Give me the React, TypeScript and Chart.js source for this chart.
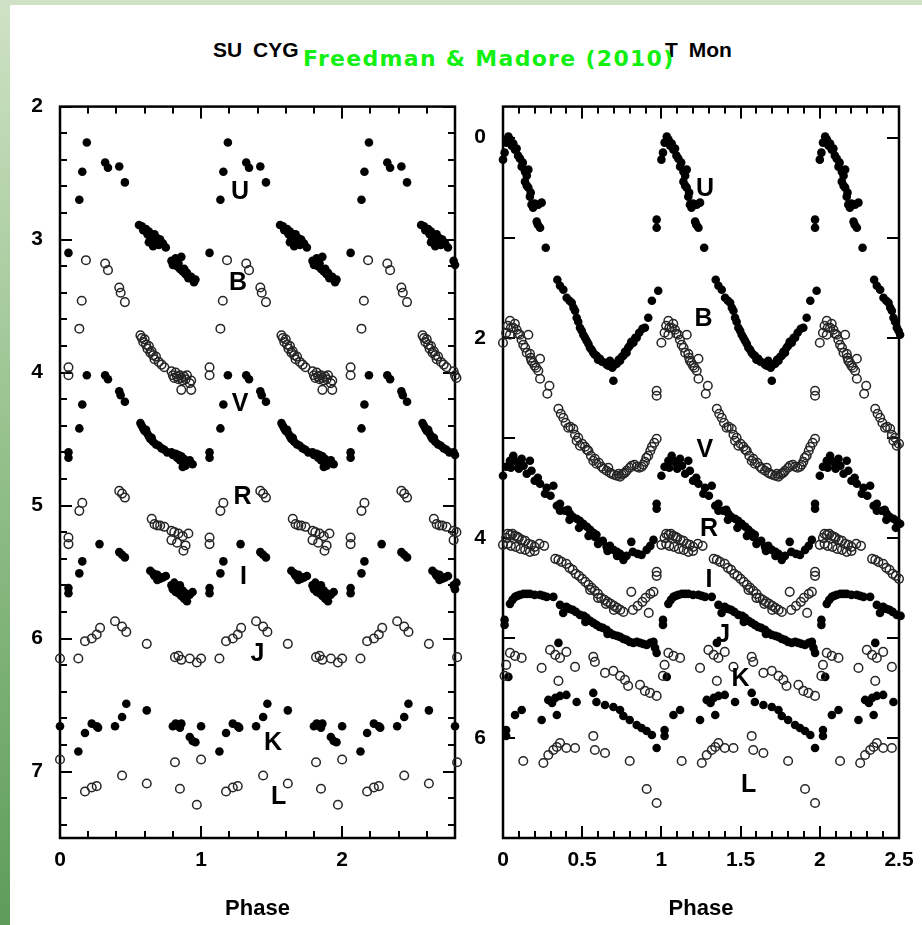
import React, { useEffect, useRef } from 'react';
import { Chart, registerables } from 'chart.js';

Chart.register(...registerables);

// ---------------- SU Cyg (left panel), one cycle: phase / magnitude ----------------
const SU_U_PHASE = [0.06, 0.137, 0.158, 0.19, 0.32, 0.34, 0.42, 0.46, 0.56, 0.58, 0.59, 0.61, 0.62, 0.63, 0.64, 0.65, 0.66, 0.67, 0.68, 0.69, 0.70, 0.71, 0.73, 0.75, 0.66, 0.63, 0.79, 0.80, 0.82, 0.83, 0.84, 0.85, 0.86, 0.87, 0.88, 0.89, 0.90, 0.91, 0.93, 0.95, 0.96];
const SU_U_MAG = [3.10, 2.70, 2.49, 2.27, 2.42, 2.46, 2.45, 2.57, 2.89, 2.90, 2.93, 2.92, 2.96, 2.94, 2.99, 2.97, 3.01, 2.96, 3.02, 2.99, 3.04, 3.00, 3.03, 3.06, 3.05, 3.02, 3.16, 3.19, 3.14, 3.20, 3.18, 3.22, 3.13, 3.24, 3.22, 3.26, 3.25, 3.29, 3.28, 3.32, 3.30];
const SU_B_PHASE = [0.06, 0.06, 0.137, 0.154, 0.184, 0.32, 0.34, 0.42, 0.43, 0.46, 0.57, 0.58, 0.59, 0.60, 0.61, 0.62, 0.63, 0.64, 0.65, 0.66, 0.67, 0.68, 0.70, 0.72, 0.74, 0.79, 0.80, 0.81, 0.82, 0.83, 0.84, 0.85, 0.86, 0.87, 0.88, 0.89, 0.90, 0.92, 0.93, 0.86, 0.93];
const SU_B_MAG = [3.96, 4.02, 3.67, 3.46, 3.155, 3.18, 3.23, 3.36, 3.40, 3.47, 3.72, 3.74, 3.77, 3.75, 3.79, 3.82, 3.80, 3.85, 3.84, 3.87, 3.90, 3.88, 3.92, 3.94, 3.96, 3.99, 4.02, 4.04, 4.00, 4.03, 4.05, 4.02, 4.04, 4.06, 4.03, 4.05, 4.02, 4.08, 4.06, 4.13, 4.13];
const SU_V_PHASE = [0.06, 0.06, 0.137, 0.158, 0.19, 0.32, 0.34, 0.42, 0.43, 0.46, 0.57, 0.58, 0.59, 0.60, 0.61, 0.62, 0.63, 0.64, 0.65, 0.66, 0.68, 0.70, 0.72, 0.74, 0.76, 0.79, 0.80, 0.82, 0.83, 0.84, 0.85, 0.86, 0.87, 0.88, 0.89, 0.90, 0.92, 0.94, 0.87];
const SU_V_MAG = [4.60, 4.64, 4.42, 4.24, 4.02, 4.02, 4.05, 4.14, 4.17, 4.22, 4.38, 4.40, 4.42, 4.44, 4.43, 4.46, 4.48, 4.50, 4.49, 4.52, 4.54, 4.55, 4.57, 4.58, 4.60, 4.60, 4.62, 4.61, 4.64, 4.62, 4.66, 4.63, 4.67, 4.65, 4.70, 4.68, 4.66, 4.69, 4.71];
const SU_R_PHASE = [0.06, 0.06, 0.137, 0.158, 0.42, 0.44, 0.46, 0.65, 0.67, 0.69, 0.71, 0.74, 0.79, 0.81, 0.84, 0.87, 0.91, 0.79, 0.83, 0.89, 0.875];
const SU_R_MAG = [5.24, 5.29, 5.04, 4.98, 4.89, 4.91, 4.94, 5.10, 5.14, 5.15, 5.15, 5.16, 5.19, 5.20, 5.21, 5.23, 5.21, 5.26, 5.28, 5.30, 5.34];
const SU_I_PHASE = [0.06, 0.06, 0.137, 0.158, 0.28, 0.42, 0.44, 0.46, 0.64, 0.66, 0.67, 0.69, 0.71, 0.73, 0.75, 0.69, 0.79, 0.80, 0.81, 0.82, 0.83, 0.84, 0.85, 0.86, 0.87, 0.88, 0.89, 0.90, 0.92, 0.94];
const SU_I_MAG = [5.62, 5.66, 5.51, 5.42, 5.29, 5.35, 5.37, 5.39, 5.49, 5.51, 5.53, 5.52, 5.55, 5.54, 5.53, 5.56, 5.60, 5.63, 5.58, 5.65, 5.62, 5.66, 5.60, 5.68, 5.64, 5.70, 5.66, 5.72, 5.67, 5.65];
const SU_J_PHASE = [0.0, 0.13, 0.177, 0.225, 0.26, 0.284, 0.39, 0.44, 0.47, 0.615, 0.815, 0.84, 0.86, 0.92, 0.97];
const SU_J_MAG = [6.15, 6.15, 6.02, 6.00, 5.97, 5.92, 5.87, 5.91, 5.95, 6.04, 6.14, 6.13, 6.16, 6.15, 6.18];
const SU_K_PHASE = [0.0, 0.13, 0.177, 0.225, 0.26, 0.27, 0.39, 0.44, 0.47, 0.615, 0.80, 0.82, 0.84, 0.86, 0.85, 0.92, 0.94, 0.96];
const SU_K_MAG = [6.66, 6.85, 6.71, 6.64, 6.66, 6.67, 6.66, 6.59, 6.49, 6.54, 6.66, 6.64, 6.65, 6.64, 6.67, 6.74, 6.77, 6.78];
const SU_L_PHASE = [0.0, 0.177, 0.225, 0.26, 0.44, 0.615, 0.815, 0.85, 0.97];
const SU_L_MAG = [6.91, 7.15, 7.12, 7.11, 7.03, 7.09, 6.93, 7.13, 7.25];

// ---------------- T Mon (right panel), one cycle: phase / magnitude ----------------
const TM_U_PHASE = [0.0, 0.01, 0.02, 0.034, 0.045, 0.055, 0.065, 0.075, 0.086, 0.095, 0.107, 0.118, 0.125, 0.139, 0.15, 0.16, 0.139, 0.15, 0.16, 0.17, 0.175, 0.18, 0.19, 0.20, 0.223, 0.244, 0.213, 0.22, 0.234, 0.27, 0.343, 0.36, 0.381, 0.402, 0.42, 0.434, 0.445, 0.455, 0.465, 0.475, 0.486, 0.497, 0.507, 0.518, 0.528, 0.539, 0.549, 0.56, 0.57, 0.58, 0.591, 0.60, 0.612, 0.625, 0.644, 0.655, 0.665, 0.675, 0.697, 0.69, 0.705, 0.718, 0.73, 0.739, 0.75, 0.76, 0.77, 0.78, 0.79, 0.80, 0.81, 0.823, 0.835, 0.844, 0.86, 0.88, 0.896, 0.917, 0.94, 0.98, 0.97, 0.97];
const TM_U_MAG = [0.22, 0.15, 0.05, -0.01, 0.02, 0.08, 0.06, 0.12, 0.11, 0.18, 0.21, 0.29, 0.25, 0.34, 0.38, 0.32, 0.44, 0.48, 0.50, 0.59, 0.55, 0.67, 0.70, 0.66, 0.67, 0.65, 0.84, 0.87, 0.90, 1.10, 1.42, 1.48, 1.52, 1.60, 1.63, 1.65, 1.70, 1.73, 1.80, 1.84, 1.90, 1.93, 1.97, 2.00, 2.03, 2.06, 2.10, 2.12, 2.15, 2.17, 2.18, 2.22, 2.21, 2.24, 2.25, 2.27, 2.28, 2.23, 2.43, 2.30, 2.27, 2.26, 2.22, 2.23, 2.19, 2.18, 2.14, 2.15, 2.10, 2.08, 2.04, 2.05, 2.00, 2.00, 1.95, 1.91, 1.90, 1.80, 1.63, 1.53, 0.90, 0.82];
const TM_B_PHASE = [0.0, 0.02, 0.03, 0.044, 0.05, 0.065, 0.075, 0.086, 0.044, 0.095, 0.107, 0.117, 0.128, 0.14, 0.16, 0.15, 0.17, 0.175, 0.18, 0.19, 0.20, 0.21, 0.223, 0.234, 0.234, 0.28, 0.293, 0.35, 0.365, 0.381, 0.395, 0.412, 0.425, 0.444, 0.455, 0.465, 0.475, 0.486, 0.50, 0.518, 0.53, 0.539, 0.555, 0.57, 0.58, 0.59, 0.605, 0.623, 0.635, 0.654, 0.665, 0.675, 0.686, 0.70, 0.718, 0.73, 0.739, 0.75, 0.76, 0.77, 0.78, 0.80, 0.812, 0.83, 0.844, 0.86, 0.875, 0.885, 0.896, 0.905, 0.917, 0.93, 0.94, 0.955, 0.97, 0.97, 0.97];
const TM_B_MAG = [2.05, 1.95, 1.88, 1.83, 1.90, 1.90, 1.86, 1.92, 1.97, 1.96, 1.97, 2.02, 2.07, 2.10, 1.97, 2.15, 2.16, 2.20, 2.23, 2.25, 2.28, 2.30, 2.33, 2.21, 2.41, 2.56, 2.48, 2.71, 2.76, 2.80, 2.85, 2.90, 2.89, 2.91, 2.97, 3.03, 3.00, 3.08, 3.06, 3.09, 3.12, 3.13, 3.18, 3.23, 3.21, 3.26, 3.25, 3.29, 3.31, 3.33, 3.30, 3.35, 3.36, 3.37, 3.38, 3.36, 3.39, 3.37, 3.36, 3.35, 3.33, 3.30, 3.28, 3.27, 3.29, 3.30, 3.29, 3.27, 3.24, 3.20, 3.18, 3.13, 3.09, 3.05, 3.01, 2.53, 2.58];
const TM_V_PHASE = [0.0, 0.02, 0.044, 0.065, 0.075, 0.097, 0.118, 0.13, 0.17, 0.15, 0.18, 0.20, 0.234, 0.265, 0.318, 0.276, 0.30, 0.34, 0.36, 0.39, 0.41, 0.423, 0.44, 0.465, 0.485, 0.507, 0.53, 0.55, 0.57, 0.58, 0.59, 0.61, 0.63, 0.654, 0.675, 0.697, 0.72, 0.739, 0.76, 0.78, 0.81, 0.82, 0.85, 0.875, 0.907, 0.93, 0.95, 0.97, 0.97, 0.36, 0.42, 0.48, 0.54, 0.60, 0.66, 0.72, 0.05, 0.10, 0.22];
const TM_V_MAG = [3.38, 3.29, 3.23, 3.18, 3.23, 3.26, 3.21, 3.28, 3.23, 3.36, 3.33, 3.43, 3.46, 3.56, 3.48, 3.50, 3.58, 3.68, 3.66, 3.73, 3.72, 3.76, 3.79, 3.81, 3.83, 3.86, 3.89, 3.92, 3.95, 3.99, 3.97, 4.04, 4.03, 4.09, 4.08, 4.12, 4.14, 4.16, 4.22, 4.18, 4.04, 4.14, 4.16, 4.17, 4.12, 4.08, 4.02, 3.71, 3.66, 3.73, 3.82, 3.90, 3.98, 4.06, 4.13, 4.18, 3.30, 3.31, 3.40];
const TM_R_PHASE = [0.0, 0.02, 0.03, 0.045, 0.06, 0.075, 0.09, 0.10, 0.12, 0.14, 0.16, 0.18, 0.20, 0.03, 0.05, 0.08, 0.11, 0.14, 0.17, 0.20, 0.23, 0.26, 0.33, 0.35, 0.37, 0.40, 0.42, 0.44, 0.46, 0.48, 0.50, 0.52, 0.54, 0.56, 0.58, 0.60, 0.62, 0.64, 0.66, 0.68, 0.70, 0.72, 0.74, 0.55, 0.60, 0.65, 0.70, 0.76, 0.81, 0.82, 0.85, 0.88, 0.90, 0.93, 0.95, 0.97, 0.97, 0.92];
const TM_R_MAG = [4.07, 4.00, 3.96, 3.97, 3.96, 3.98, 3.99, 4.00, 4.02, 4.03, 4.06, 4.07, 4.09, 4.06, 4.08, 4.09, 4.11, 4.12, 4.14, 4.13, 4.06, 4.08, 4.21, 4.22, 4.24, 4.26, 4.30, 4.32, 4.36, 4.38, 4.41, 4.44, 4.47, 4.50, 4.53, 4.56, 4.60, 4.62, 4.64, 4.66, 4.68, 4.70, 4.72, 4.52, 4.60, 4.66, 4.72, 4.74, 4.54, 4.72, 4.68, 4.64, 4.60, 4.56, 4.54, 4.34, 4.38, 4.75];
const TM_I_PHASE = [0.01, 0.01, 0.044, 0.06, 0.076, 0.09, 0.107, 0.13, 0.15, 0.17, 0.20, 0.234, 0.255, 0.276, 0.318, 0.36, 0.40, 0.42, 0.44, 0.46, 0.486, 0.51, 0.528, 0.55, 0.57, 0.59, 0.61, 0.63, 0.654, 0.675, 0.697, 0.72, 0.739, 0.76, 0.78, 0.80, 0.823, 0.845, 0.865, 0.885, 0.907, 0.93, 0.95, 0.97, 0.96, 0.38, 0.52, 0.66];
const TM_I_MAG = [4.82, 4.87, 4.66, 4.62, 4.59, 4.58, 4.57, 4.56, 4.56, 4.56, 4.57, 4.57, 4.58, 4.59, 4.59, 4.67, 4.69, 4.71, 4.72, 4.74, 4.77, 4.78, 4.80, 4.83, 4.85, 4.87, 4.89, 4.90, 4.92, 4.95, 4.97, 4.98, 4.99, 5.01, 5.02, 5.04, 5.05, 5.04, 5.05, 5.06, 5.07, 5.05, 5.04, 5.15, 5.10, 4.75, 4.84, 4.96];
const TM_J_PHASE = [0.01, 0.02, 0.044, 0.076, 0.118, 0.244, 0.297, 0.33, 0.36, 0.40, 0.455, 0.35, 0.57, 0.58, 0.644, 0.697, 0.739, 0.77, 0.79, 0.865, 0.896, 0.928, 0.97];
const TM_J_MAG = [5.38, 5.27, 5.15, 5.18, 5.20, 5.30, 5.12, 5.17, 5.20, 5.14, 5.29, 5.43, 5.19, 5.24, 5.35, 5.33, 5.38, 5.42, 5.48, 5.47, 5.53, 5.55, 5.58];
const TM_K_PHASE = [0.034, 0.02, 0.02, 0.076, 0.118, 0.244, 0.286, 0.33, 0.34, 0.35, 0.40, 0.465, 0.57, 0.59, 0.644, 0.697, 0.739, 0.76, 0.80, 0.844, 0.875, 0.907, 0.94, 0.97, 0.31, 0.36];
const TM_K_MAG = [5.39, 5.92, 5.98, 5.77, 5.72, 5.82, 5.62, 5.60, 5.77, 5.05, 5.57, 5.64, 5.55, 5.64, 5.67, 5.69, 5.72, 5.78, 5.82, 5.87, 5.90, 5.93, 5.97, 6.10, 5.65, 5.58];
const TM_L_PHASE = [0.128, 0.255, 0.286, 0.318, 0.34, 0.36, 0.40, 0.455, 0.57, 0.58, 0.644, 0.80, 0.907, 0.97];
const TM_L_MAG = [6.23, 6.25, 6.17, 6.12, 6.09, 6.05, 6.10, 6.10, 5.98, 6.12, 6.15, 6.23, 6.51, 6.65];

// ---------------- axis ticks and band label anchors ----------------
const SU_X_TICKS = [0, 1, 2];
const SU_Y_TICKS = [2, 3, 4, 5, 6, 7];
const TM_X_TICKS = [0, 0.5, 1, 1.5, 2, 2.5];
const TM_Y_TICKS = [0, 2, 4, 6];
const BAND_NAMES = ['U', 'B', 'V', 'R', 'I', 'J', 'K', 'L'];
const SU_LABEL_X = [1.277, 1.262, 1.277, 1.294, 1.30, 1.40, 1.51, 1.55];
const SU_LABEL_Y = [2.64, 3.33, 4.24, 4.94, 5.54, 6.12, 6.79, 7.19];
const TM_LABEL_X = [1.275, 1.266, 1.275, 1.30, 1.30, 1.39, 1.50, 1.55];
const TM_LABEL_Y = [0.51, 1.81, 3.12, 3.91, 4.42, 4.97, 5.41, 6.47];
const FILLED = [true, false, true, false, true, false, true, false];

const SU_BANDS = [
  [SU_U_PHASE, SU_U_MAG], [SU_B_PHASE, SU_B_MAG], [SU_V_PHASE, SU_V_MAG], [SU_R_PHASE, SU_R_MAG],
  [SU_I_PHASE, SU_I_MAG], [SU_J_PHASE, SU_J_MAG], [SU_K_PHASE, SU_K_MAG], [SU_L_PHASE, SU_L_MAG],
];
const TM_BANDS = [
  [TM_U_PHASE, TM_U_MAG], [TM_B_PHASE, TM_B_MAG], [TM_V_PHASE, TM_V_MAG], [TM_R_PHASE, TM_R_MAG],
  [TM_I_PHASE, TM_I_MAG], [TM_J_PHASE, TM_J_MAG], [TM_K_PHASE, TM_K_MAG], [TM_L_PHASE, TM_L_MAG],
];

// each observation is plotted at phase, phase+1, phase+2 (as in the original figure)
function fold(phase: number[], mag: number[], xmax: number) {
  const pts: { x: number; y: number }[] = [];
  for (let k = 0; k <= Math.floor(xmax); k++) {
    phase.forEach((p, i) => {
      const x = p + k;
      if (x <= xmax + 0.015) pts.push({ x, y: mag[i] });
    });
  }
  return pts;
}

const TICK_FONT = { family: 'Liberation Sans, Arial, sans-serif', size: 21, weight: 'bold' as const };
const CANVAS_TOP = 77;
const CANVAS_H = 848;

type PanelProps = {
  left: number;
  width: number;
  bands: number[][][];
  xmax: number;
  ymin: number;
  ymax: number;
  xTicks: number[];
  yTicks: number[];
  xMinorStep: number;
  xMajorStep: number;
  yMinorStep: number;
  yMajorStep: number;
  yAxisWidth: number;
  padRight: number;
  labelX: number[];
  labelY: number[];
};

function Panel(props: PanelProps) {
  const ref = useRef<HTMLCanvasElement | null>(null);
  useEffect(() => {
    const p = props;
    const framePlugin = {
      id: 'frameTicks',
      beforeDatasetsDraw(chart: any) {
        const { ctx, chartArea: a, scales } = chart;
        const xs = scales.x;
        const ys = scales.y;
        ctx.save();
        ctx.strokeStyle = '#000';
        ctx.fillStyle = '#000';
        const eps = 1e-6;
        const nx = Math.round(p.xmax / p.xMinorStep);
        for (let i = 0; i <= nx; i++) {
          const vv = i * p.xMinorStep;
          const r = vv / p.xMajorStep;
          const major = Math.abs(r - Math.round(r)) < 1e-6;
          const len = major ? 12 : 7;
          const px = Math.round(xs.getPixelForValue(vv));
          ctx.fillRect(px - 1, a.top, 2, len);
          ctx.fillRect(px - 1, a.bottom - len, 2, len);
        }
        const i0 = Math.ceil(p.ymin / p.yMinorStep - eps);
        const i1 = Math.floor(p.ymax / p.yMinorStep + eps);
        for (let i = i0; i <= i1; i++) {
          const vv = i * p.yMinorStep;
          const r = vv / p.yMajorStep;
          const major = Math.abs(r - Math.round(r)) < 1e-6;
          const len = major ? 12 : 7;
          const py = Math.round(ys.getPixelForValue(vv));
          ctx.fillRect(a.left, py - 1, len, 2);
          ctx.fillRect(a.right - len, py - 1, len, 2);
        }
        ctx.lineWidth = 2.5;
        ctx.strokeRect(a.left, a.top, a.right - a.left, a.bottom - a.top);
        ctx.restore();
      },
      afterDatasetsDraw(chart: any) {
        const { ctx, scales } = chart;
        ctx.save();
        ctx.fillStyle = '#000';
        ctx.font = 'bold 25px "Liberation Sans", Arial, sans-serif';
        ctx.textAlign = 'center';
        ctx.textBaseline = 'middle';
        BAND_NAMES.forEach((n, i) => {
          ctx.fillText(n, scales.x.getPixelForValue(p.labelX[i]), scales.y.getPixelForValue(p.labelY[i]));
        });
        ctx.restore();
      },
    };

    const datasets = p.bands.map((b, i) => ({
      label: BAND_NAMES[i],
      data: fold(b[0], b[1], p.xmax),
      showLine: false,
      pointRadius: 4.3,
      pointHoverRadius: 4.3,
      pointBackgroundColor: FILLED[i] ? '#000' : 'rgba(255,255,255,0)',
      pointBorderColor: FILLED[i] ? '#000' : '#262626',
      pointBorderWidth: FILLED[i] ? 0 : 1.5,
      clip: false as any,
    }));

    const chart = new Chart(ref.current as HTMLCanvasElement, {
      type: 'scatter',
      data: { datasets },
      options: {
        responsive: false,
        animation: false,
        devicePixelRatio: 1,
        events: [],
        layout: { padding: { top: 0, right: p.padRight, left: 0, bottom: 0 } },
        plugins: { legend: { display: false }, tooltip: { enabled: false }, title: { display: false } },
        scales: {
          x: {
            type: 'linear',
            min: 0,
            max: p.xmax,
            grid: { display: false, drawTicks: false },
            border: { display: false },
            ticks: {
              font: TICK_FONT,
              color: '#000',
              padding: 10,
              maxRotation: 0,
              autoSkip: false,
              callback: (v: any) => String(v),
            },
            afterBuildTicks: (s: any) => {
              s.ticks = p.xTicks.map((v) => ({ value: v }));
            },
            afterFit: (s: any) => {
              s.height = 87;
            },
            title: {
              display: true,
              text: 'Phase',
              color: '#000',
              font: { family: 'Liberation Sans, Arial, sans-serif', size: 22, weight: 'bold' },
              padding: { top: 0, bottom: 3 },
            },
          },
          y: {
            type: 'linear',
            min: p.ymin,
            max: p.ymax,
            reverse: true,
            grid: { display: false, drawTicks: false },
            border: { display: false },
            ticks: { font: TICK_FONT, color: '#000', padding: 17, autoSkip: false, callback: (v: any) => String(v) },
            afterBuildTicks: (s: any) => {
              s.ticks = p.yTicks.map((v) => ({ value: v }));
            },
            afterFit: (s: any) => {
              s.width = p.yAxisWidth;
            },
          },
        },
      },
      plugins: [framePlugin],
    });
    return () => chart.destroy();
  }, []);
  return (
    <canvas
      ref={ref}
      width={props.width}
      height={CANVAS_H}
      style={{ position: 'absolute', left: props.left, top: CANVAS_TOP, width: props.width, height: CANVAS_H }}
    />
  );
}

export default function App() {
  return (
    <div
      style={{
        position: 'absolute',
        left: 0,
        top: 0,
        width: 922,
        height: 925,
        background: '#ffffff',
        overflow: 'hidden',
      }}
    >
      <div style={{ position: 'absolute', left: 0, top: 0, width: 922, height: 5, background: '#cfe2c5' }} />
      <div
        style={{
          position: 'absolute',
          left: 0,
          top: 0,
          width: 10,
          height: 925,
          background: 'linear-gradient(#cfe2c5, #93c08a 50%, #5e9c5a)',
        }}
      />
      <div
        style={{
          position: 'absolute',
          left: 213,
          top: 39,
          font: 'bold 21px "Liberation Sans", Arial, sans-serif',
          lineHeight: '21px',
          wordSpacing: 5,
          color: '#000',
          whiteSpace: 'nowrap',
        }}
      >
        SU CYG
      </div>
      <div
        style={{
          position: 'absolute',
          left: 665,
          top: 39,
          font: 'bold 21px "Liberation Sans", Arial, sans-serif',
          lineHeight: '21px',
          wordSpacing: 5,
          color: '#000',
          whiteSpace: 'nowrap',
        }}
      >
        T Mon
      </div>
      <div
        style={{
          position: 'absolute',
          left: 303,
          top: 48,
          font: 'bold 22px "DejaVu Sans", Verdana, sans-serif',
          lineHeight: '22px',
          letterSpacing: 1.3,
          color: '#12f012',
          whiteSpace: 'nowrap',
        }}
      >
        Freedman &amp; Madore (2010)
      </div>
      <Panel
        left={10}
        width={460}
        bands={SU_BANDS}
        xmax={2.8}
        ymin={2}
        ymax={7.5}
        xTicks={SU_X_TICKS}
        yTicks={SU_Y_TICKS}
        xMinorStep={0.2}
        xMajorStep={1}
        yMinorStep={0.2}
        yMajorStep={1}
        yAxisWidth={50}
        padRight={15}
        labelX={SU_LABEL_X}
        labelY={SU_LABEL_Y}
      />
      <Panel
        left={470}
        width={454}
        bands={TM_BANDS}
        xmax={2.5}
        ymin={-0.31}
        ymax={7.0}
        xTicks={TM_X_TICKS}
        yTicks={TM_Y_TICKS}
        xMinorStep={0.1}
        xMajorStep={0.5}
        yMinorStep={1}
        yMajorStep={1}
        yAxisWidth={33}
        padRight={25}
        labelX={TM_LABEL_X}
        labelY={TM_LABEL_Y}
      />
    </div>
  );
}
